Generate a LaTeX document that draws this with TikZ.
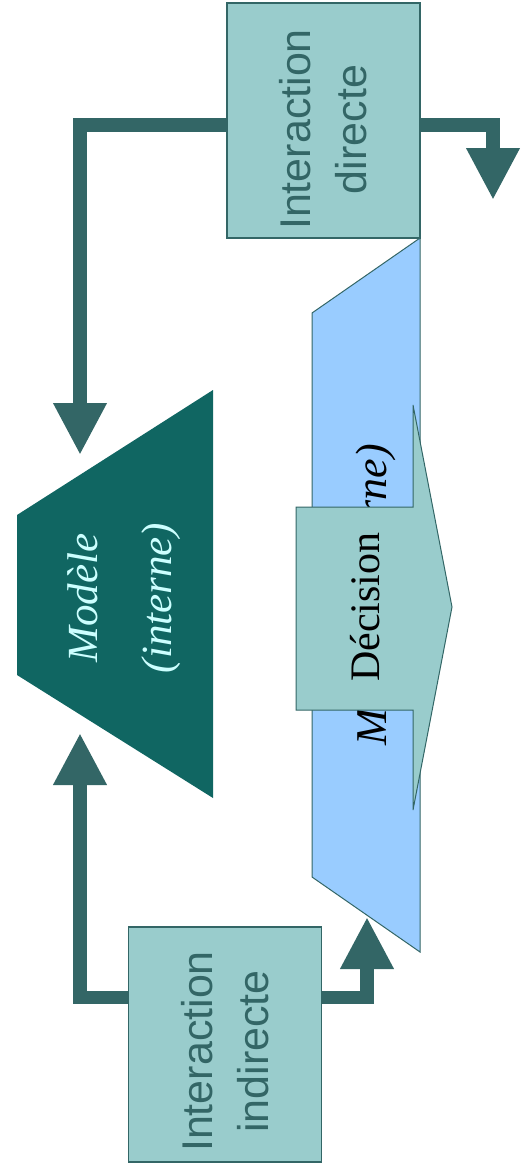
\documentclass[tikz,border=0pt]{standalone}
\usepackage{fontspec}
\setmainfont{Liberation Serif}
\setsansfont{Liberation Sans}
\usetikzlibrary{arrows.meta}
\usetikzlibrary{positioning}

\definecolor{boxfill}{HTML}{99CCCC}
\definecolor{edge}{HTML}{336666}
\definecolor{modelfill}{HTML}{106662}
\definecolor{worldfill}{HTML}{99CCFF}
\definecolor{modeltext}{HTML}{CCFFFF}

\begin{document}
\begin{tikzpicture}[x=1pt, y=1pt,
  ibox/.style={draw=edge, fill=boxfill, line width=1.2pt,
    minimum width=193pt, minimum height=235pt, inner sep=0pt},
  itext/.style={rotate=90, inner sep=0pt, align=center,
    text=edge, font=\sffamily\fontsize{43}{56}\selectfont},
  link/.style={draw=edge, line width=13.5pt, -{Triangle[width=50pt, length=52pt]}},
  label/.style={rotate=90, inner sep=0pt}]
  \useasboundingbox (0,0) rectangle (524,-1167);

  % Modele externe (light blue) with the decision arrow on top
  \filldraw[fill=worldfill, draw=edge, line width=1pt]
    (420,-238) -- (312,-313) -- (312,-877) -- (420,-952) -- cycle;
  \node[label, font=\itshape\fontsize{44}{50}\selectfont] (world) at (376,-595) {Modèle (externe)};
  \filldraw[fill=boxfill, draw=edge, line width=1pt]
    (296,-507) -- (413,-507) -- (413,-405) -- (452,-607) -- (413,-810) -- (413,-710) -- (296,-710) -- cycle;
  \node[label, font=\fontsize{42}{50}\selectfont] (decision) at (365,-607) {Décision};

  % Modele interne
  \fill[modelfill] (17,-515) -- (213,-390) -- (213,-798) -- (17,-675) -- cycle;
  \node[label, align=center, text=modeltext, font=\itshape\fontsize{43}{74}\selectfont]
    (model) at (124,-598) {Modèle\\(interne)};

  % interactions
  \node[ibox] (direct) at (323.5,-120.5) {};
  \node[itext] (directtxt) at ([yshift=-9pt]direct.center) {Interaction\\directe};
  \node[ibox] (indirect) at (225,-1044.5) {};
  \node[itext] (indirecttxt) at ([yshift=-7pt]indirect.center) {Interaction\\indirecte};

  \coordinate (mtop) at (80,-455);
  \coordinate (mbottom) at (80,-733);
  \coordinate (out) at (493,-200);
  \coordinate (wbottom) at (367,-917);

  \draw[link] ([yshift=-4.5pt]direct.west) -| (mtop);
  \draw[link] ([yshift=-4.5pt]direct.east) -| (out);
  \draw[link] ([yshift=47pt]indirect.west) -| (mbottom);
  \draw[link] ([yshift=47pt]indirect.east) -| (wbottom);
\end{tikzpicture}
\end{document}
